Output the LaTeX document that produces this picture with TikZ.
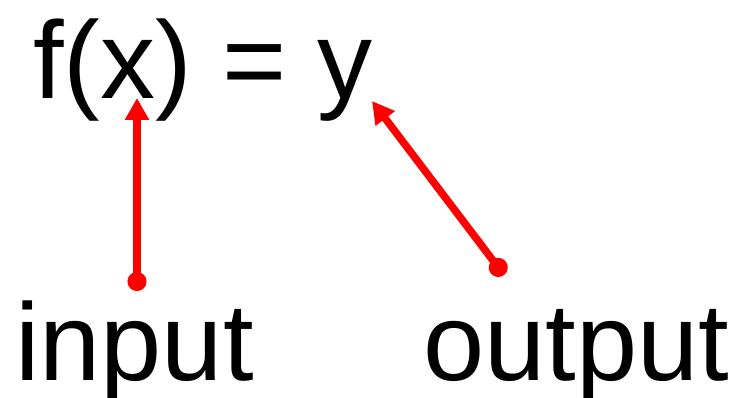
\documentclass[tikz,border=0pt]{standalone}
\usepackage{fontspec}
\setmainfont{Liberation Sans}
\usetikzlibrary{arrows.meta}
\begin{document}
\begin{tikzpicture}[x=1pt,y=-1pt,
  bigtext/.style={inner sep=0pt,anchor=base west,font=\fontsize{110}{120}\selectfont},
  redarrow/.style={draw=red,line width=7.5pt,{Circle[length=19pt,width=19pt,fill=red]}-{Triangle[length=22pt,width=23pt,fill=red]}}]
\useasboundingbox (0,0) rectangle (736,398);
\node[bigtext] (eq) at (33,99) {f(x) = y};
\node[bigtext] (in) at (15,380) {input};
\node[bigtext] (out) at (423,380) {output};
\coordinate (inStart) at (137,291);
\coordinate (inEnd) at (137,98);
\coordinate (outStart) at (504,275);
\coordinate (outEnd) at (372,101);
\draw[redarrow] (inStart) -- (inEnd);
\draw[redarrow] (outStart) -- (outEnd);
\end{tikzpicture}
\end{document}
